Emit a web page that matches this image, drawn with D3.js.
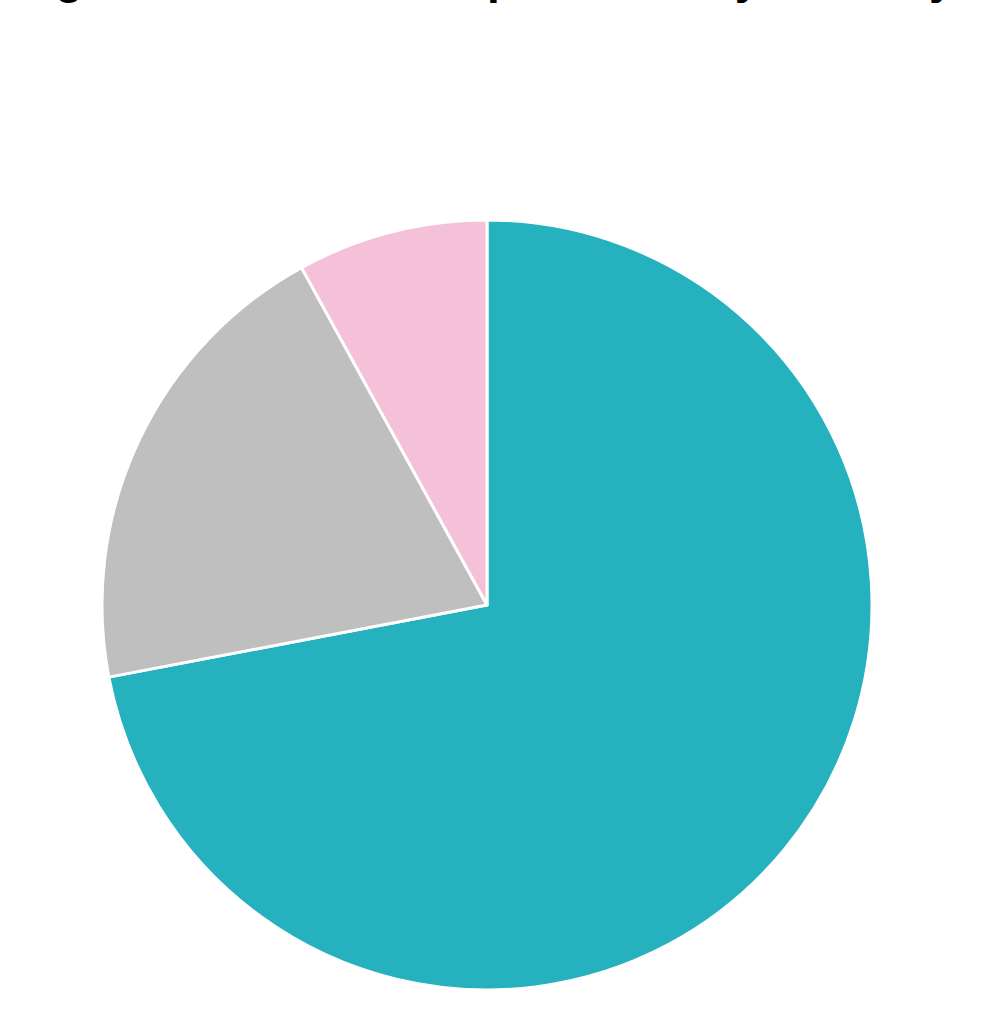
<!DOCTYPE html>
<html>
<head>
<meta charset="utf-8">
<script src="https://cdn.jsdelivr.net/npm/d3@7"></script>
<style>
html,body{margin:0;padding:0;background:#fff;overflow:hidden;}
svg{display:block;}
</style>
</head>
<body>
<svg id="chart" width="983" height="1017"></svg>
<script>
const titleText = "Fig. 4 — Share of Respondents by Industry Type";
const categories = ["Primary", "Secondary", "Other"];
const values = [72, 20, 8];
const colors = ["#25B1BE", "#BFBFBF", "#F4C1D8"];

const svg = d3.select("#chart");
const cx = 487, cy = 605, r = 385;

svg.append("text")
  .attr("x", 14).attr("y", -7)
  .attr("font-family", "'Liberation Sans', Arial, sans-serif")
  .attr("font-weight", "bold")
  .attr("font-size", 46)
  .attr("fill", "#000")
  .text(titleText);

const pie = d3.pie().sort(null).value(d => d.v);
const arc = d3.arc().innerRadius(0).outerRadius(r);
const data = categories.map((c, i) => ({c, v: values[i], col: colors[i]}));

svg.append("g").attr("transform", `translate(${cx},${cy})`)
  .selectAll("path").data(pie(data)).join("path")
  .attr("d", arc)
  .attr("fill", d => d.data.col)
  .attr("stroke", "#fff")
  .attr("stroke-width", 3)
  .attr("stroke-linejoin", "round");
</script>
</body>
</html>
